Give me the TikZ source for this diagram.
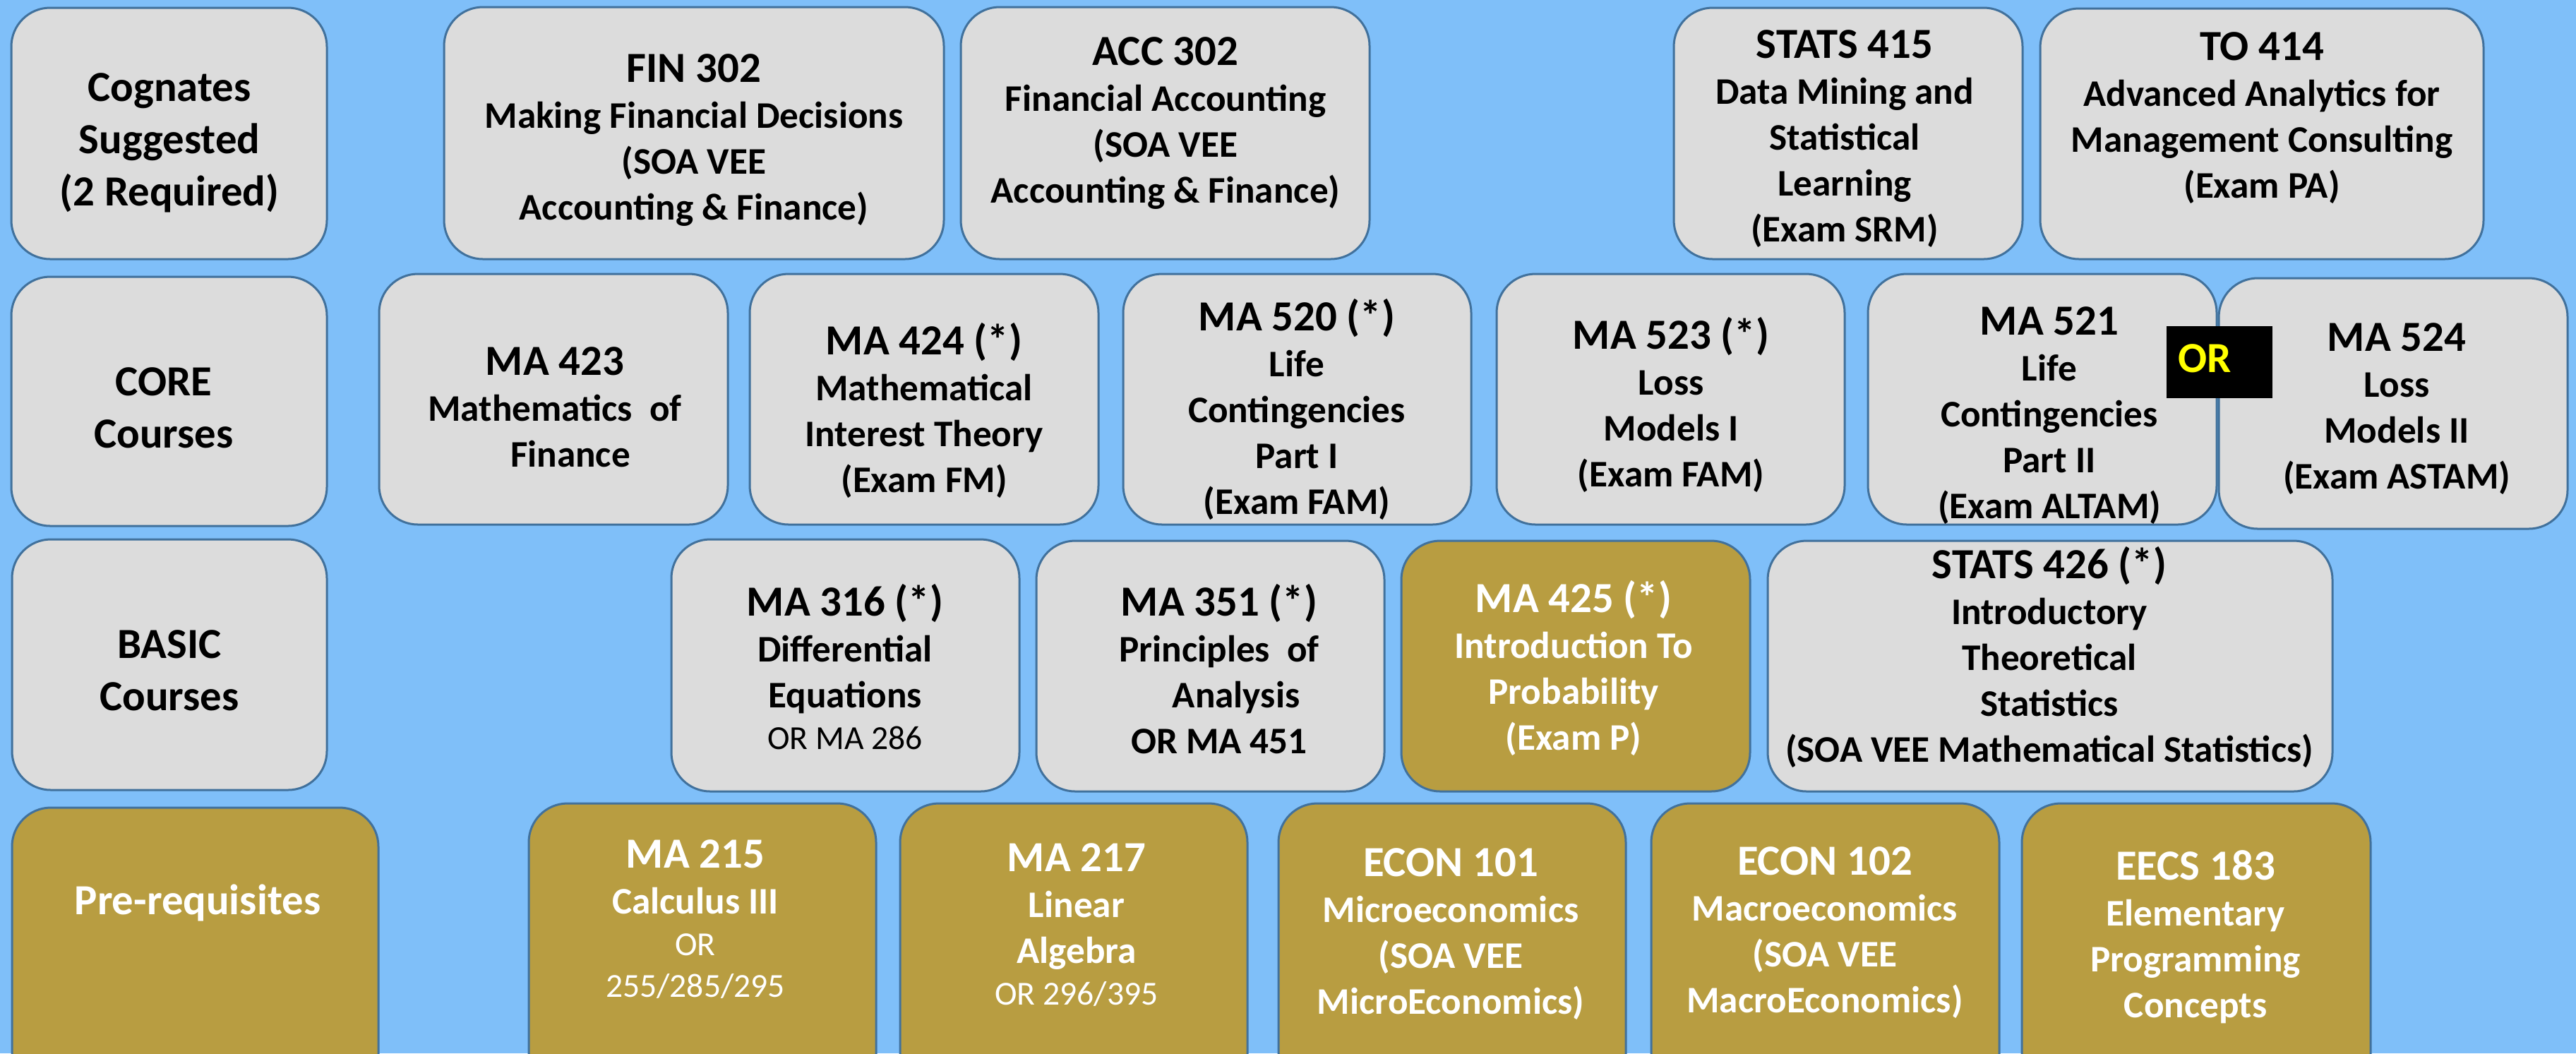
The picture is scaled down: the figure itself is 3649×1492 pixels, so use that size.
\documentclass[tikz,border=0pt]{standalone}
\usepackage{fontspec}
\setmainfont{Carlito}
\usetikzlibrary{fit}
\definecolor{bgblue}{RGB}{127,191,249}
\definecolor{boxgray}{RGB}{220,220,220}
\definecolor{boxgold}{RGB}{184,157,65}
\definecolor{edgeblue}{RGB}{65,113,156}
\definecolor{oryellow}{RGB}{255,255,0}
\setlength\tabcolsep{0pt}
\newcommand\hd{\fontsize{15.2}{16.25}\selectfont\bfseries}
\newcommand\rg{\fontsize{11.9}{16.25}\selectfont\mdseries}
\newcommand\ls[1]{\begin{tabular}[t]{c}#1\end{tabular}}
\newcommand\tight{\noalign{\vskip-1.5pt}}
\begin{document}
\begin{tikzpicture}[x=0.25pt, y=-0.25pt,
  box/.style={draw=edgeblue, line width=0.75pt, rounded corners=13.75pt, inner sep=0pt, outer sep=0pt},
  gbox/.style={box, fill=boxgray},
  ybox/.style={box, fill=boxgold},
  txt/.style={anchor=base, inner sep=0pt, font=\fontsize{13.3}{16.25}\selectfont\bfseries, text=black},
  wtxt/.style={txt, text=white},
  lbl/.style={txt, font=\fontsize{15.2}{18.5}\selectfont\bfseries},
  wlbl/.style={lbl, text=white}]
\useasboundingbox (0,0) rectangle (3649,1492);
\clip (0,0) rectangle (3649,1492);
\fill[bgblue] (0,0) rectangle (3649,1492);
% Row 1
\node[gbox, fit={(16,11)(463,367)}] (cog) {};
\node[lbl] (cogt) at (240,143) {\ls{Cognates\\ Suggested\\ (2 Required)}};
\node[gbox, fit={(629,10)(1337,367)}] (fin) {};
\node[txt] (fint) at (983,116) {\ls{\hd FIN 302\\ Making Financial Decisions\\ (SOA VEE\\ Accounting \& Finance)}};
\node[gbox, fit={(1361,10)(1940,367)}] (acc) {};
\node[txt] (acct) at (1651,92) {\ls{\hd ACC 302\\ Financial Accounting\\ (SOA VEE\\ Accounting \& Finance)}};
\node[gbox, fit={(2371,11)(2865,367)}] (sta) {};
\node[txt] (stat) at (2613,82) {\ls{\hd STATS 415\\ Data Mining and\\ Statistical\\ Learning\\ (Exam SRM)}};
\node[gbox, fit={(2890,12)(3518,367)}] (to) {};
\node[txt] (tot) at (3204,85) {\ls{\hd TO 414\\ Advanced Analytics for\\ Management Consulting\\ (Exam PA)}};
% Row 2
\node[gbox, fit={(16,392)(463,745)}] (core) {};
\node[lbl] (coret) at (232,560) {\ls{CORE\\ Courses}};
\node[gbox, fit={(537,388)(1031,743)}] (m423) {};
\node[txt] (m423t) at (786,531) {\ls{\hd MA 423\\ Mathematics\ \ of\\ \hspace{11pt}Finance}};
\node[gbox, fit={(1062,388)(1556,743)}] (m424) {};
\node[txt] (m424t) at (1309,502) {\ls{\hd MA 424 (*)\\ Mathematical\\ Interest Theory\\ (Exam FM)}};
\node[gbox, fit={(1591,388)(2084,743)}] (m520) {};
\node[txt] (m520t) at (1837,468) {\ls{\hd MA 520 (*)\\ Life\\ Contingencies\\ Part I\\ (Exam FAM)}};
\node[gbox, fit={(2120,388)(2613,743)}] (m523) {};
\node[txt] (m523t) at (2367,494) {\ls{\hd MA 523 (*)\\ Loss\\ Models I\\ (Exam FAM)}};
\node[gbox, fit={(2646,388)(3140,743)}] (m521) {};
\node[txt] (m521t) at (2903,474) {\ls{\hd MA 521\\ Life\\ Contingencies\\ Part II\\ (Exam ALTAM)}};
\node[gbox, fit={(3143,394)(3637,749)}] (m524) {};
\node[txt] (m524t) at (3395,497) {\ls{\hd MA 524\\ Loss\\ Models II\\ (Exam ASTAM)}};
\node[fill=black, inner sep=0pt, outer sep=0pt, fit={(3069,462)(3219,564)}] (orbox) {};
\node[anchor=base west, inner sep=0pt, text=oryellow, font=\hd] (ortext) at (3085,527) {OR};
% Row 3
\node[gbox, fit={(17,764)(463,1119)}] (basic) {};
\node[lbl] (basict) at (240,932) {\ls{BASIC\\ Courses}};
\node[gbox, fit={(951,764)(1444,1121)}] (m316) {};
\node[txt] (m316t) at (1197,872) {\ls{\hd MA 316 (*)\\ Differential\\ Equations\\ \tight \rg OR MA 286}};
\node[gbox, fit={(1468,766)(1961,1121)}] (m351) {};
\node[txt] (m351t) at (1727,872) {\ls{\hd MA 351 (*)\\ Principles\ \ of\\ \hspace{12pt}Analysis\\ OR MA 451}};
\node[ybox, fit={(1985,766)(2479,1121)}] (m425) {};
\node[wtxt] (m425t) at (2229,867) {\ls{\hd MA 425 (*)\\ Introduction To\\ Probability\\ (Exam P)}};
\node[gbox, fit={(2504,766)(3304,1121)}] (s426) {};
\node[txt] (s426t) at (2903,819) {\ls{\hd STATS 426 (*)\\ Introductory\\ Theoretical\\ Statistics\\ (SOA VEE Mathematical Statistics)}};
% Row 4
\node[ybox, fit={(17,1144)(536,1560)}] (pre) {};
\node[wlbl] (pret) at (280,1295) {Pre-requisites};
\node[ybox, fit={(749,1138)(1241,1560)}] (m215) {};
\node[wtxt] (m215t) at (985,1229) {\ls{\hd MA 215\\ Calculus III\\ \tight \rg OR\\ \tight \rg 255/285/295}};
\node[ybox, fit={(1275,1138)(1767,1560)}] (m217) {};
\node[wtxt] (m217t) at (1525,1234) {\ls{\hd MA 217\\ Linear\\ Algebra\\ \tight \rg OR 296/395}};
\node[ybox, fit={(1811,1138)(2303,1560)}] (e101) {};
\node[wtxt] (e101t) at (2055,1241) {\ls{\hd ECON 101\\ Microeconomics\\ (SOA VEE\\ MicroEconomics)}};
\node[ybox, fit={(2339,1138)(2832,1560)}] (e102) {};
\node[wtxt] (e102t) at (2585,1239) {\ls{\hd ECON 102\\ Macroeconomics\\ (SOA VEE\\ MacroEconomics)}};
\node[ybox, fit={(2864,1138)(3358,1560)}] (eecs) {};
\node[wtxt] (eecst) at (3110,1246) {\ls{\hd EECS 183\\ Elementary\\ Programming\\ Concepts}};
\end{tikzpicture}
\end{document}
